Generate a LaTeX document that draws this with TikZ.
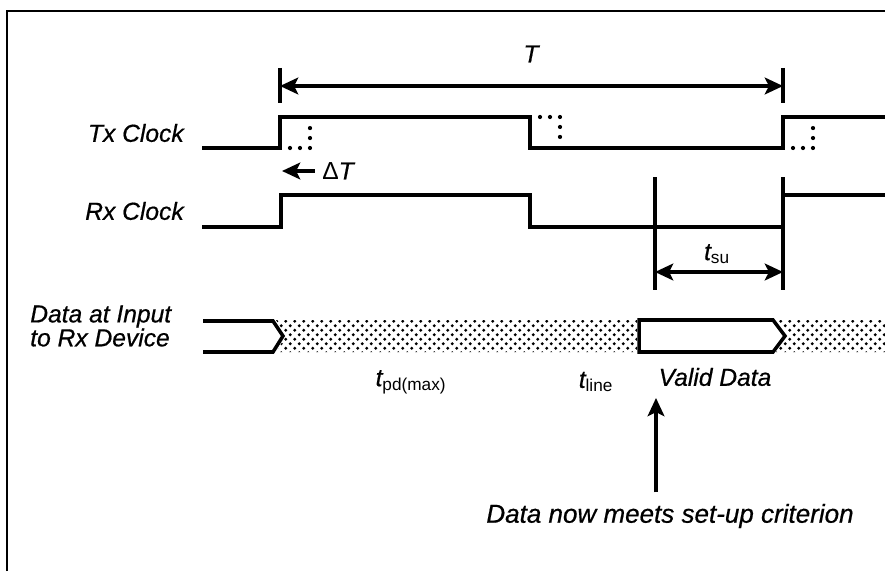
\documentclass[tikz,border=0pt]{standalone}
\usepackage{fontspec}
\setmainfont{Liberation Sans}[ItalicFeatures={FakeBold=0.6}]
\usetikzlibrary{arrows.meta,patterns}

\pgfdeclarepatternformonly{datadots}{\pgfqpoint{-1pt}{-1pt}}{\pgfqpoint{7.4pt}{7.4pt}}{\pgfqpoint{6.4pt}{6.4pt}}{%
  \pgfpathcircle{\pgfqpoint{1.6pt}{1.6pt}}{1.15pt}%
  \pgfpathcircle{\pgfqpoint{4.8pt}{4.8pt}}{1.15pt}%
  \pgfusepath{fill}}

\tikzset{
  wave/.style={line width=2.5pt, line join=miter},
  jit/.style={line width=3pt, line cap=round, dash pattern=on 0pt off 7.1pt},
  tick/.style={line width=2.2pt},
  dim/.style={line width=2.2pt, <->},
  lbl/.style={inner sep=0pt, font=\fontsize{17.5}{17}\selectfont\itshape},
}

\begin{document}
\begin{tikzpicture}[x=0.025cm, y=-0.025cm, >={Stealth[length=13pt,width=12pt,inset=3pt]}]
  \useasboundingbox (0,0) rectangle (885,571);
  \def\jitter#1#2#3{\draw[jit] (#1+10,#2) -- (#1+30,#2) -- (#1+30,#3);}
  % frame
  \draw[line width=1.4pt] (7,571) -- (7,11) -- (885,11);
  % period
  \draw[tick] (280,68) -- (280,103);
  \draw[tick] (783,68) -- (783,103);
  \coordinate (Tl) at (280,86);
  \coordinate (Tr) at (783,86);
  \draw[dim] (Tl) -- (Tr);
  \node[lbl] (per) at (531,54) {T};
  % transmit clock
  \node[lbl, anchor=east] (tx) at (184,133) {Tx Clock};
  \draw[wave] (202,148) -- (280,148) -- (280,117) -- (530,117) -- (530,148)
    -- (783,148) -- (783,117) -- (885,117);
  \jitter{280}{148}{126}
  \jitter{530}{117}{139}
  \jitter{783}{148}{126}
  % skew
  \coordinate (sk) at (282,171);
  \node[lbl, anchor=west] (dT) at (322,171) {{\upshape Δ}T};
  \draw[->, line width=2.2pt] ([xshift=-5pt]dT.west) -- (sk);
  % receive clock
  \node[lbl, anchor=east] (rx) at (184,211) {Rx Clock};
  \draw[wave] (202,227) -- (281,227) -- (281,195) -- (530,195) -- (530,227)
    -- (783,227) -- (783,195) -- (885,195);
  % set-up time
  \draw[tick] (655,177) -- (655,290);
  \draw[tick] (783,177) -- (783,290);
  \coordinate (sl) at (655,272);
  \coordinate (sr) at (783,272);
  \draw[dim] (sl) -- (sr);
  \node[lbl] (su) at (717,254) {t\textsubscript{\upshape su}};
  % data
  \node[lbl, anchor=west, align=left] (din) at (30,326) {Data at Input\\to Rx Device};
  \fill[pattern=datadots] (276,320) -- (286,336) -- (276,352) -- (637,352) -- (637,320) -- cycle;
  \fill[pattern=datadots] (776,320) -- (788,336) -- (776,352) -- (885,352) -- (885,320) -- cycle;
  \draw[wave] (203,321) -- (273,321) -- (283,336) -- (273,352) -- (203,352);
  \draw[wave] (639,320) -- (773,320) -- (785,336) -- (773,352) -- (639,352) -- cycle;
  \node[lbl] (pd) at (411,382) {t\textsubscript{\upshape pd(max)}};
  \node[lbl] (ln) at (596,382) {t\textsubscript{\upshape line}};
  \node[lbl] (vd) at (715,377) {Valid Data};
  % criterion
  \node[lbl, font=\fontsize{18.5}{18}\selectfont\itshape] (crit) at (670,516) {Data now meets set-up criterion};
  \coordinate (ok) at (656,398);
  \draw[->, line width=2.2pt] ([yshift=8pt]crit.north -| ok) -- (ok);
\end{tikzpicture}
\end{document}
